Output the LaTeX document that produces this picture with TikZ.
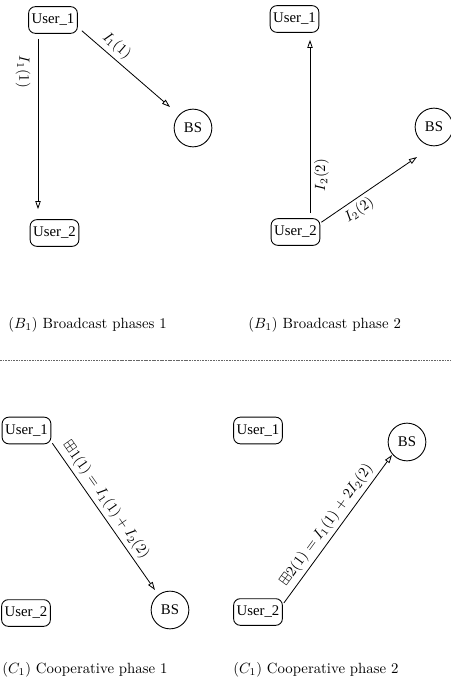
\documentclass[tikz,border=0pt]{standalone}
\usepackage{amssymb}
\usepackage{fontspec}
\newfontfamily\tnr{Liberation Serif}
\usetikzlibrary{arrows.meta,calc}
\begin{document}
\begin{tikzpicture}[x=0.676pt,y=-0.676pt,
  user/.style={draw,rounded corners=4.5pt,line width=0.6pt,font=\tnr,minimum width=33pt,minimum height=18pt,inner xsep=2pt,inner ysep=0pt},
  bs/.style={draw,circle,line width=0.6pt,font=\tnr,minimum size=25.5pt,inner sep=0pt},
  arr/.style={line width=0.55pt,-{Triangle[open,length=5.5pt,width=3.6pt]}},
  lbl/.style={font=\normalsize,inner sep=2.5pt},
  captext/.style={anchor=west,inner sep=0pt}]
\useasboundingbox (0,0) rectangle (451,686);
% panel 1
\node[user] (u11) at (53,20) {User\_1};
\node[user] (u12) at (54.5,233) {User\_2};
\node[bs] (bs1) at (193,128) {BS};
\draw[arr] ($(u11.south)+(-15,5)$) -- ($(u12.north)+(-16.5,-10)$);
\node[lbl,rotate=-90] (l11) at (23,72) {$I_1(1)$};
\draw[arr] ($(u11.south east)+(4,-3)$) -- node[lbl,sloped,above,pos=0.31] (l12) {$I_1(1)$} ($(bs1)+(-23,-21)$);
% panel 2
\node[user] (u21) at (294.5,19) {User\_1};
\node[user] (u22) at (295.5,232) {User\_2};
\node[bs] (bs2) at (434,127) {BS};
\draw[arr] ($(u22.north)+(14.5,-5)$) -- node[lbl,sloped,below,pos=0.22] (l21) {$I_2(2)$} ($(u21.south)+(15.5,7)$);
\draw[arr] ($(u22.north east)+(1,4)$) -- node[lbl,sloped,below,pos=0.33] (l22) {$I_2(2)$} ($(bs2)+(-17,30)$);
% captions top
\node[captext] (c1) at (8,325) {$(B_1)$ Broadcast phases 1};
\node[captext] (c2) at (248,325) {$(B_1)$ Broadcast phase 2};
% separator
\coordinate (s1) at (0,360);
\coordinate (s2) at (451,360);
\draw[line width=0.4pt,gray!80!black,dash pattern=on 1.2pt off 0.6pt] (s1) -- (s2);
% panel 3
\node[user] (u31) at (26.5,430.5) {User\_1};
\node[user] (u32) at (26,613) {User\_2};
\node[bs] (bs3) at (170,610) {BS};
\draw[arr] ($(u31.south east)+(1,-1)$) -- node[lbl,sloped,above,pos=0.43] (l31) {$\boxplus 1(1) = I_1(1) + I_2(2)$} ($(bs3)+(-15,-20)$);
% panel 4
\node[user] (u41) at (258,430.5) {User\_1};
\node[user] (u42) at (258,612) {User\_2};
\node[bs] (bs4) at (407,442) {BS};
\draw[arr] ($(u42.east)+(1,-9)$) -- node[lbl,sloped,above,pos=0.48] (l41) {$\boxplus 2(1) = I_1(1) + 2I_2(2)$} ($(bs4)+(-15,13)$);
% captions bottom
\node[captext] (c3) at (2,670) {$(C_1)$ Cooperative phase 1};
\node[captext] (c4) at (233,670) {$(C_1)$ Cooperative phase 2};
\end{tikzpicture}
\end{document}
